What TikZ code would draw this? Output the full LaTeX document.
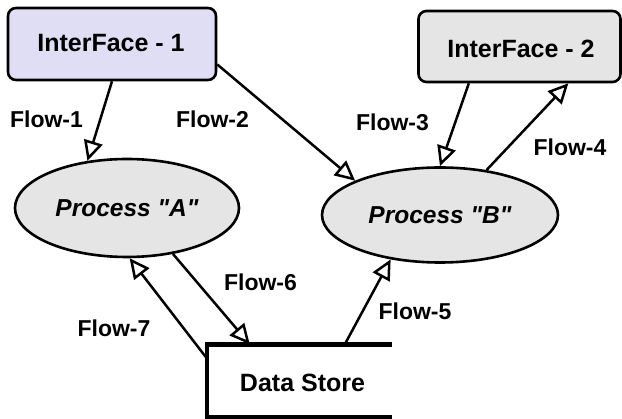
\documentclass[tikz,border=0pt]{standalone}
\usepackage{fontspec}
\setmainfont{Liberation Sans}
\usetikzlibrary{arrows.meta,shapes.geometric}
\definecolor{ifacelav}{RGB}{224,222,245}
\definecolor{procgrey}{RGB}{229,229,229}
\tikzset{
  iface/.style={draw, line width=2.6pt, rounded corners=8pt, inner sep=0pt},
  boxtext/.style={font=\fontsize{25}{28}\selectfont\bfseries, inner sep=0pt},
  proc/.style={draw, ellipse, line width=2.6pt, fill=procgrey, inner sep=0pt,
    font=\fontsize{24.5}{28}\selectfont\bfseries\itshape},
  flowtip/.tip={Triangle[open, length=20pt, width=19pt, line width=2.5pt, fill=white]},
  flow/.style={line width=2.5pt, -flowtip},
  flowlabel/.style={font=\fontsize{23}{26}\selectfont\bfseries, inner sep=0pt},
  storeline/.style={line width=4.5pt, line cap=rect},
}
\begin{document}
\begin{tikzpicture}[x=1pt,y=-1pt]
  \useasboundingbox (0,0) rectangle (622,419);

  % external interfaces
  \node[iface, fill=ifacelav, minimum width=208pt, minimum height=72pt] (if1) at (112,44) {};
  \node[boxtext] at (111,43) {InterFace - 1};
  \node[iface, fill=procgrey, minimum width=202pt, minimum height=71pt] (if2) at (519.5,46.5) {};
  \node[boxtext] at (521,49) {InterFace - 2};

  % processes
  \node[proc, minimum width=224pt, minimum height=98pt] (pa) at (127,208) {Process \textquotedbl A\textquotedbl};
  \node[proc, minimum width=236pt, minimum height=95pt] (pb) at (440,215) {Process \textquotedbl B\textquotedbl};

  % data store: open on the right
  \node[minimum width=183pt, minimum height=73pt, inner sep=0pt] (ds) at (298.5,381) {};
  \node[boxtext] at (302.5,383) {Data Store};
  \draw[storeline] (ds.north east) -- (ds.north west) -- (ds.south west) -- (ds.south east);

  % flows
  \draw[flow] (if1.south) -- (pa.130);
  \draw[flow] (if1.-11) -- (pb.158);
  \draw[flow] (if2.216) -- (pb.90);
  \draw[flow] (pb.44) -- (if2.-37);
  \draw[flow] ([xshift=138pt]ds.north west) -- (pb.222);
  \draw[flow] (pa.-45) -- ([xshift=43pt]ds.north west);
  \draw[flow] ([yshift=-14pt]ds.north west) -- (pa.-87);

  % flow labels
  \node[flowlabel] (l1) at (46.5,119) {Flow-1};
  \node[flowlabel] (l2) at (212.5,119) {Flow-2};
  \node[flowlabel] (l3) at (392.5,122) {Flow-3};
  \node[flowlabel] (l4) at (570,147) {Flow-4};
  \node[flowlabel] (l5) at (415,311) {Flow-5};
  \node[flowlabel] (l6) at (260.5,282) {Flow-6};
  \node[flowlabel] (l7) at (114,328) {Flow-7};
\end{tikzpicture}
\end{document}
